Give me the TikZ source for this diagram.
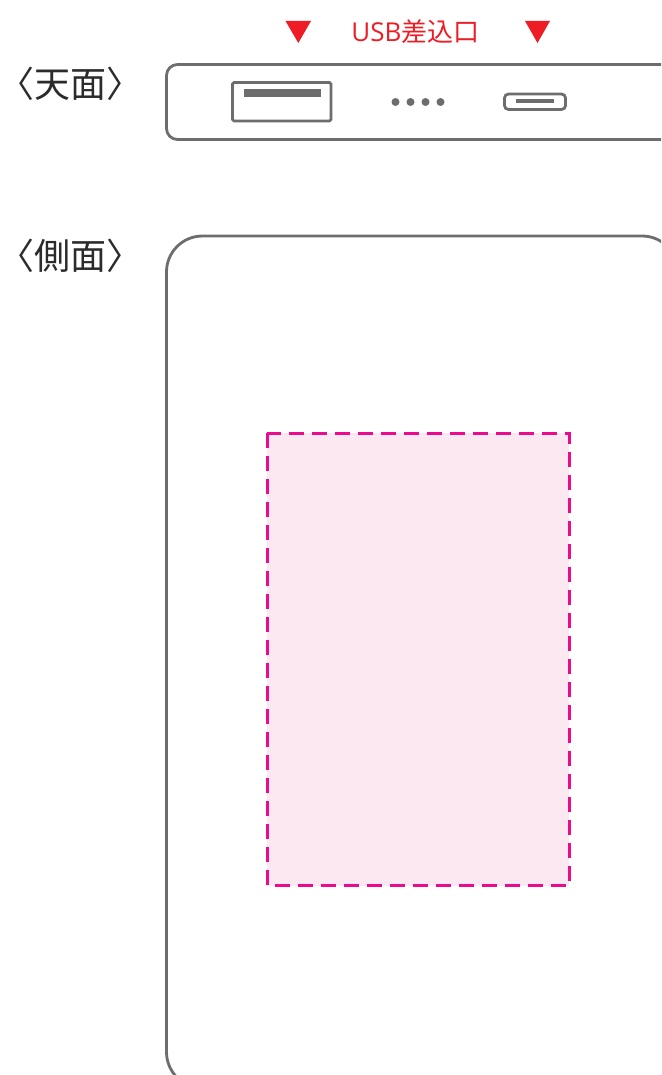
\documentclass[tikz,border=0pt]{standalone}
\usepackage{fontspec}
\setmainfont{Noto Sans CJK JP}
\newfontfamily\latinf{Open Sans}
\definecolor{devgray}{HTML}{6D6D6D}
\definecolor{lblack}{HTML}{2B2B2B}
\definecolor{mkred}{HTML}{EE1C25}
\definecolor{zonepink}{HTML}{EC0B8D}
\definecolor{zonefill}{HTML}{FCE8F1}
\tikzset{
  device/.style={draw=devgray,line width=2.8pt,fill=white},
  port/.style={draw=devgray,line width=2.8pt,fill=white},
  solidbar/.style={fill=devgray,draw=none},
  marker/.style={fill=mkred,draw=none},
  viewlabel/.style={font=\fontsize{36}{39}\selectfont,text=lblack,inner sep=0pt,anchor=center},
  usblabel/.style={font=\fontsize{26}{29}\selectfont,text=mkred,inner sep=0pt,anchor=center},
  printzone/.style={draw=zonepink,fill=zonefill,line width=3pt,dash pattern=on 15pt off 8pt},
  dot/.style={circle,fill=devgray,draw=none,minimum size=8pt,inner sep=0pt},
}
\begin{document}
\begin{tikzpicture}[x=1pt,y=-1pt]
\useasboundingbox (0,0) rectangle (661,1075);
\clip (0,0) rectangle (661,1075);
\fill[white] (0,0) rectangle (661,1075);
% top view
\draw[device,rounded corners=11pt] (166.5,64.5) rectangle (690,139.5);
\node[viewlabel] (toplabel) at (70.5,84) {〈天面〉};
\draw[port,rounded corners=1.5pt] (232.5,82.5) rectangle (331,121);
\fill[solidbar] (244,89) rectangle (320.5,97);
\foreach \n/\x in {a/395.5,b/410.5,c/425.5,d/440.5}{\node[dot] (dot\n) at (\x,102) {};}
\draw[port,rounded corners=4pt] (504.5,94) rectangle (565.5,109.5);
\fill[solidbar] (516,99.5) rectangle (554,103.5);
% markers
\fill[marker] (285.5,21) -- (311,21) -- (298.3,43) -- cycle;
\fill[marker] (525,21) -- (550,21) -- (537.5,43) -- cycle;
\node[usblabel] (usb) at (415.5,32) {{\latinf USB}差込口};
% side view
\node[viewlabel] (sidelabel) at (70.5,256) {〈側面〉};
\draw[device,rounded corners=36pt] (166.5,236) rectangle (678,1088);
\draw[printzone] (267,433) rectangle (569,885.5);
\end{tikzpicture}
\end{document}
